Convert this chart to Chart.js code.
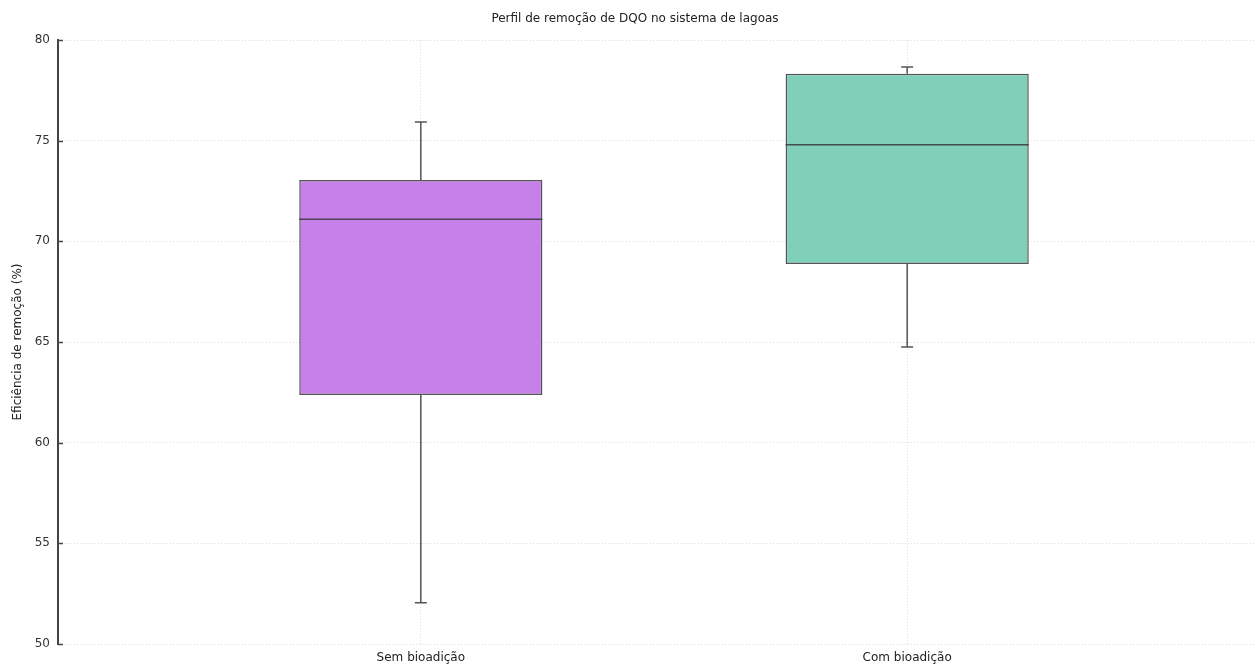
<!DOCTYPE html>
<html>
<head>
<meta charset="utf-8">
<script src="https://cdn.jsdelivr.net/npm/chart.js@4"></script>
<style>
  html, body { margin: 0; padding: 0; overflow: hidden; background: #fff; }
  #wrap { width: 1270px; height: 664px; }
</style>
</head>
<body>
<div id="wrap"><canvas id="myChart"></canvas></div>
<script>
const categories = ['Sem bioadição', 'Com bioadição'];
const whiskerLow = [52.05, 64.75];
const q1 = [62.37, 68.88];
const median = [71.1, 74.8];
const q3 = [73.05, 78.32];
const whiskerHigh = [75.93, 78.66];
const yTicks = [50, 55, 60, 65, 70, 75, 80];
const boxColors = ['#c77fea', '#80cfb9'];

const edge = 'rgba(55,55,55,0.85)';

// whiskers, caps, medians and inward y ticks
const boxExtras = {
    id: 'boxExtras',
    afterDatasetsDraw(chart) {
        const c = chart.ctx;
        const xs = chart.scales.x;
        const ys = chart.scales.y;
        c.save();
        c.strokeStyle = edge;
        c.lineWidth = 1.5;
        categories.forEach(function(cat, i) {
            const cx = xs.getPixelForValue(i);
            const half = (xs.getPixelForValue(0.25) - xs.getPixelForValue(0));
            const cap = 6;
            c.beginPath();
            c.moveTo(cx, ys.getPixelForValue(q3[i]));
            c.lineTo(cx, ys.getPixelForValue(whiskerHigh[i]));
            c.moveTo(cx - cap, ys.getPixelForValue(whiskerHigh[i]));
            c.lineTo(cx + cap, ys.getPixelForValue(whiskerHigh[i]));
            c.moveTo(cx, ys.getPixelForValue(q1[i]));
            c.lineTo(cx, ys.getPixelForValue(whiskerLow[i]));
            c.moveTo(cx - cap, ys.getPixelForValue(whiskerLow[i]));
            c.lineTo(cx + cap, ys.getPixelForValue(whiskerLow[i]));
            c.moveTo(cx - half, ys.getPixelForValue(median[i]));
            c.lineTo(cx + half, ys.getPixelForValue(median[i]));
            c.stroke();
        });
        c.strokeStyle = '#444';
        c.lineWidth = 1.5;
        c.beginPath();
        yTicks.forEach(function(v) {
            const py = Math.round(ys.getPixelForValue(v)) + 0.5;
            c.moveTo(chart.chartArea.left, py);
            c.lineTo(chart.chartArea.left + 5, py);
        });
        c.stroke();
        c.restore();
    }
};

const ctx = document.getElementById('myChart').getContext('2d');
Chart.defaults.font.family = '"DejaVu Sans", sans-serif';
Chart.defaults.color = '#222';

new Chart(ctx, {
    type: 'bar',
    data: {
        datasets: [
            {
                data: categories.map(function(c, i) { return { x: i, y: [q1[i], q3[i]] }; }),
                backgroundColor: boxColors,
                borderColor: edge,
                borderWidth: 1.5,
                borderSkipped: false,
                categoryPercentage: 0.5,
                barPercentage: 1.0
            }
        ]
    },
    plugins: [boxExtras],
    options: {
        responsive: true,
        maintainAspectRatio: false,
        animation: false,
        layout: { padding: 0 },
        plugins: {
            legend: { display: false },
            tooltip: { enabled: false },
            title: {
                display: true,
                text: 'Perfil de remoção de DQO no sistema de lagoas',
                color: '#222',
                font: { size: 12, weight: 'normal' },
                padding: { top: 12, bottom: 13.6 }
            }
        },
        scales: {
            x: {
                type: 'linear',
                offset: false,
                min: -0.746,
                max: 1.746,
                afterBuildTicks: function(s) { s.ticks = [{ value: 0 }, { value: 1 }]; },
                afterFit: function(s) { s.height = 20; },
                ticks: {
                    callback: function(v) { return categories[v]; },
                    font: { size: 12 },
                    padding: 7,
                    maxRotation: 0
                },
                grid: { offset: false, color: '#ddd', drawTicks: false },
                border: { display: false, dash: [1, 2] }
            },
            y: {
                min: 50,
                max: 80,
                afterBuildTicks: function(s) { s.ticks = yTicks.map(function(v) { return { value: v }; }); },
                afterFit: function(s) { s.width = 58; },
                title: {
                    display: true,
                    text: 'Eficiência de remoção (%)',
                    font: { size: 12 },
                    padding: { top: 11, bottom: 0 }
                },
                ticks: { font: { size: 12 }, color: '#333', padding: 8 },
                grid: { color: '#ddd', drawTicks: false },
                border: { display: true, color: '#444', width: 2, dash: [1, 2] }
            }
        }
    }
});
</script>
</body>
</html>
